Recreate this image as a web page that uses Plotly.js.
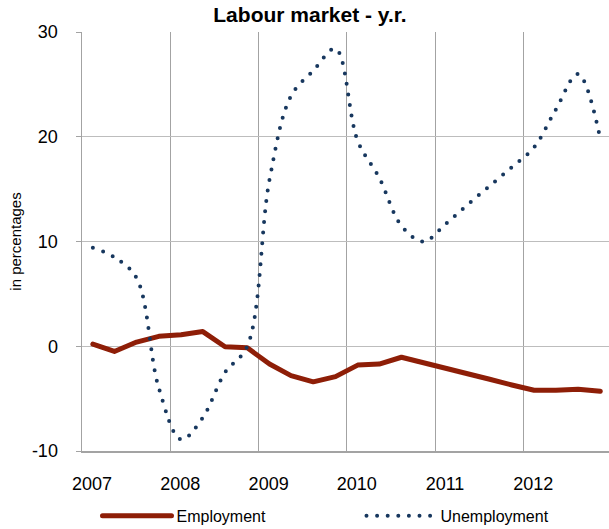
<!DOCTYPE html>
<html>
<head>
<meta charset="utf-8">
<script src="https://cdn.plot.ly/plotly-3.0.1.min.js"></script>
<style>
  html, body { margin: 0; padding: 0; background: #fff; }
  #chart { width: 609px; height: 529px; }
  path.js-line { stroke-linecap: round; stroke-linejoin: round; }
</style>
</head>
<body>
<div id="chart"></div>
<script>
// Quarterly observations (mid-quarter month)
const periods = [
  '2007-02-15','2007-05-15','2007-08-15','2007-11-15',
  '2008-02-15','2008-05-15','2008-08-15','2008-11-15',
  '2009-02-15','2009-05-15','2009-08-15','2009-11-15',
  '2010-02-15','2010-05-15','2010-08-15','2010-11-15',
  '2011-02-15','2011-05-15','2011-08-15','2011-11-15',
  '2012-02-15','2012-05-15','2012-08-15','2012-11-15'
];
const employment = [
  0.2, -0.5, 0.4, 0.95,
  1.1, 1.4, -0.05, -0.15,
  -1.7, -2.8, -3.4, -2.9,
  -1.8, -1.7, -1.05, -1.55,
  -2.1, -2.6, -3.15, -3.7,
  -4.2, -4.2, -4.1, -4.3
];
const unemployment = [
  9.4, 8.5, 6.5, -4.0,
  -8.9, -6.8, -2.5, 0.0,
  15.9, 23.9, 26.3, 28.4,
  19.6, 16.1, 11.5, 10.0,
  11.7, 13.5, 15.3, 17.1,
  19.0, 22.6, 26.0, 19.8
];
const yearTicks = ['2007-01-01','2008-01-01','2009-01-01','2010-01-01','2011-01-01','2012-01-01'];
const yearLabels = ['2007','2008','2009','2010','2011','2012'];
const yTickVals = [-10, 0, 10, 20, 30];
const yTickLabels = ['-10', '0', '10', '20', '30'];

const traces = [
  {
    x: periods, y: employment, name: 'Employment', type: 'scatter', mode: 'lines',
    line: { color: '#8e1e07', width: 5 }
  },
  {
    x: periods, y: unemployment, name: 'Unemployment', type: 'scatter', mode: 'lines',
    line: { color: '#17375e', width: 4, dash: '0px,10.6px', shape: 'spline', smoothing: 1 }
  }
];

const layout = {
  width: 609, height: 529,
  margin: { l: 82, r: 0, t: 32, b: 78, autoexpand: false },
  paper_bgcolor: '#ffffff', plot_bgcolor: '#ffffff',
  font: { family: 'Liberation Sans, Arial, sans-serif', color: '#000000' },
  title: {
    text: '<b>Labour market - y.r.</b>',
    font: { family: 'Liberation Sans Narrow, Liberation Sans, Arial', size: 21, color: '#000' },
    x: 0.509, xref: 'container', xanchor: 'center',
    y: 0.972, yref: 'container', yanchor: 'middle'
  },
  xaxis: {
    type: 'date',
    range: ['2007-01-01', '2012-12-21'],
    tickmode: 'array', tickvals: yearTicks, ticktext: yearLabels,
    showgrid: true, gridcolor: '#a3a3a3', gridwidth: 1,
    ticks: '', ticklabelshift: 10, ticklabelstandoff: 16,
    tickfont: { size: 18 },
    showline: true, linecolor: '#a3a3a3', linewidth: 1.5,
    zeroline: false, fixedrange: true
  },
  yaxis: {
    range: [-10, 30], tickmode: 'array', tickvals: yTickVals, ticktext: yTickLabels,
    showgrid: true, gridcolor: '#bdbdbd', gridwidth: 1,
    ticks: 'outside', ticklen: 5, tickcolor: '#a3a3a3',
    ticklabelstandoff: 14,
    tickfont: { size: 18 },
    showline: true, linecolor: '#a3a3a3', linewidth: 1.5,
    zeroline: false, fixedrange: true,
    title: { text: 'in percentages', font: { size: 15 }, standoff: 6 }
  },
  showlegend: true,
  legend: {
    orientation: 'h', x: 0.0294, xanchor: 'left', y: -0.155, yanchor: 'middle',
    font: { size: 16 }, itemwidth: 69, entrywidth: 180, entrywidthmode: 'pixels',
    bgcolor: 'rgba(0,0,0,0)', traceorder: 'normal'
  }
};

Plotly.newPlot('chart', traces, layout, { staticPlot: true, displayModeBar: false });
</script>
</body>
</html>
